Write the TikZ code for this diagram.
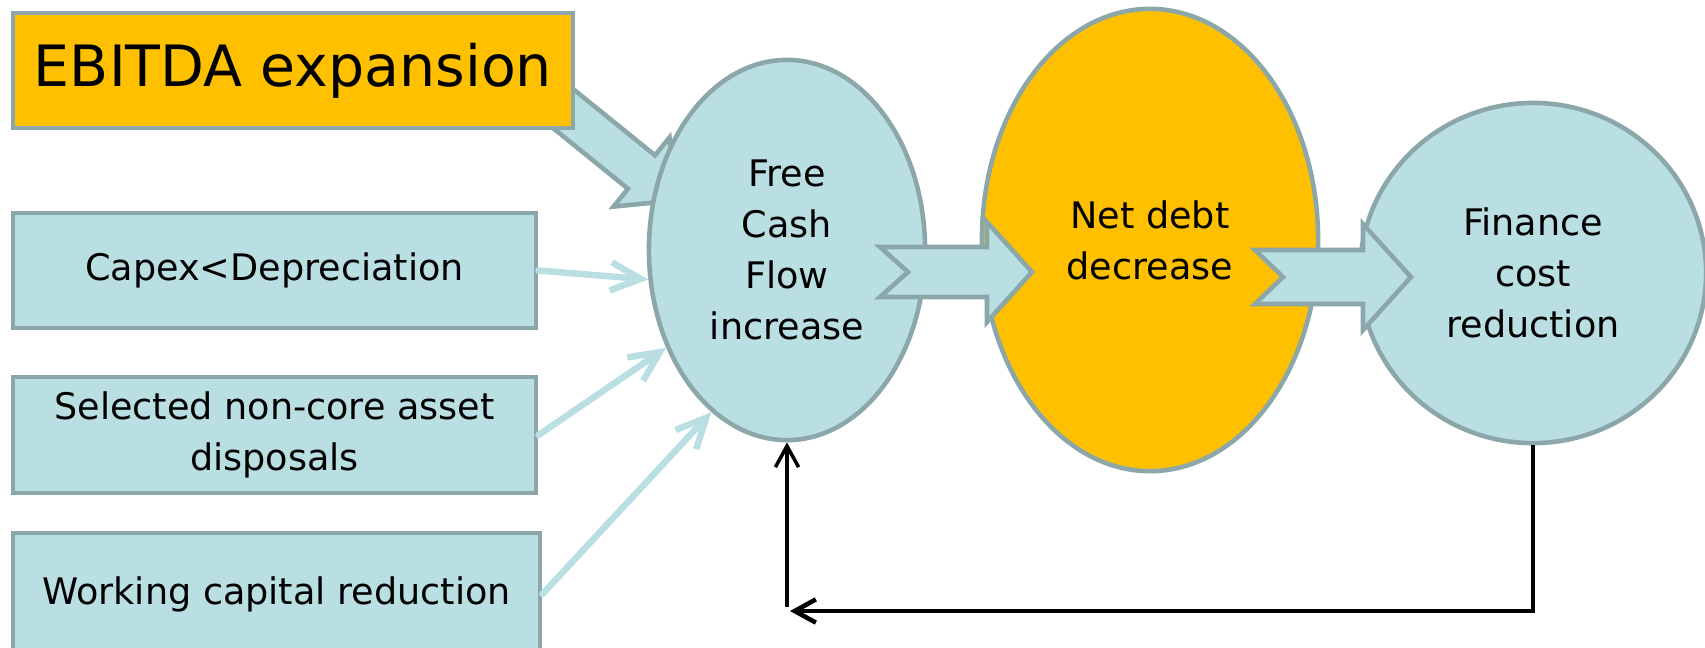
\documentclass[tikz,border=0pt]{standalone}
\usepackage{fontspec}
\setmainfont{DejaVu Sans}
\usepackage{tikz}
\usetikzlibrary{shapes.geometric, arrows.meta}
\definecolor{pale}{RGB}{185,223,227}
\definecolor{rim}{RGB}{140,167,169}
\definecolor{gold}{RGB}{255,192,0}

\begin{document}
\begin{tikzpicture}[x=0.01cm, y=-0.01cm,
  every node/.style={font=\fontsize{10.4}{14.5}\selectfont, align=center, inner sep=0pt},
  box/.style={rectangle, draw=rim, fill=pale, line width=1.3pt},
  blob/.style={ellipse, draw=rim, fill=pale, line width=1.3pt},
  fat/.style={draw=rim, fill=pale, line width=1.3pt, line join=miter},
  feed/.style={draw=pale, line width=1.85pt, line cap=round, -{Straight Barb[length=8.5pt, width=8pt]}},
  back/.style={line width=1.3pt, -{Straight Barb[length=6pt, width=6.6pt]}}]
\useasboundingbox (0,0) rectangle (1705,647);

% fat arrow from the EBITDA box, drawn under the box and the ellipse
\draw[fat] (554,73.5) -- (655,155.3) -- (669.5,137.4) -- (676.5,200.3) -- (613.5,206.6) -- (628,188.7) -- (527,107) -- cycle;

\node[box, fill=gold, minimum width=5.6cm, minimum height=1.15cm, font=\fontsize{16.2}{19}\selectfont] (ebitda) at (293,70.5) {EBITDA expansion};
\node[box, minimum width=5.23cm, minimum height=1.15cm] (capex) at (274.5,270.5) {Capex<Depreciation};
\node[box, minimum width=5.23cm, minimum height=1.16cm] (sel) at (274.5,435) {Selected non-core asset\\disposals};
\node[box, minimum width=5.27cm, minimum height=1.22cm] (work) at (276.5,594) {Working capital reduction};

\node[blob, minimum width=2.76cm, minimum height=3.8cm] (fcf) at (787,250) {Free\\Cash\\Flow\\increase};
\node[blob, fill=gold, minimum width=3.36cm, minimum height=4.62cm] (debt) at (1150,240) {Net debt\\decrease};
\node[blob, minimum width=3.46cm, minimum height=3.4cm] (fin) at (1533,273) {Finance\\cost\\reduction};

\draw[fat] (880,247) -- (987,247) -- (987,222) -- (1032,272) -- (987,322) -- (987,297) -- (880,297) -- (908,272) -- cycle;
\draw[fat] (1255,250) -- (1363,250) -- (1363,224) -- (1411,277) -- (1363,330) -- (1363,304) -- (1255,304) -- (1283,277) -- cycle;

\draw[feed] (capex.east) -- (fcf.192);
\draw[feed] (sel.east) -- (fcf.219);
\draw[feed] (work.east) -- (fcf.245);

\coordinate (turn) at (790,611);
\coordinate (rise) at (787,607);
\draw[back] (fin.south) |- (turn);
\draw[back, line width=1pt] (rise) -- (fcf.south);
\end{tikzpicture}
\end{document}
